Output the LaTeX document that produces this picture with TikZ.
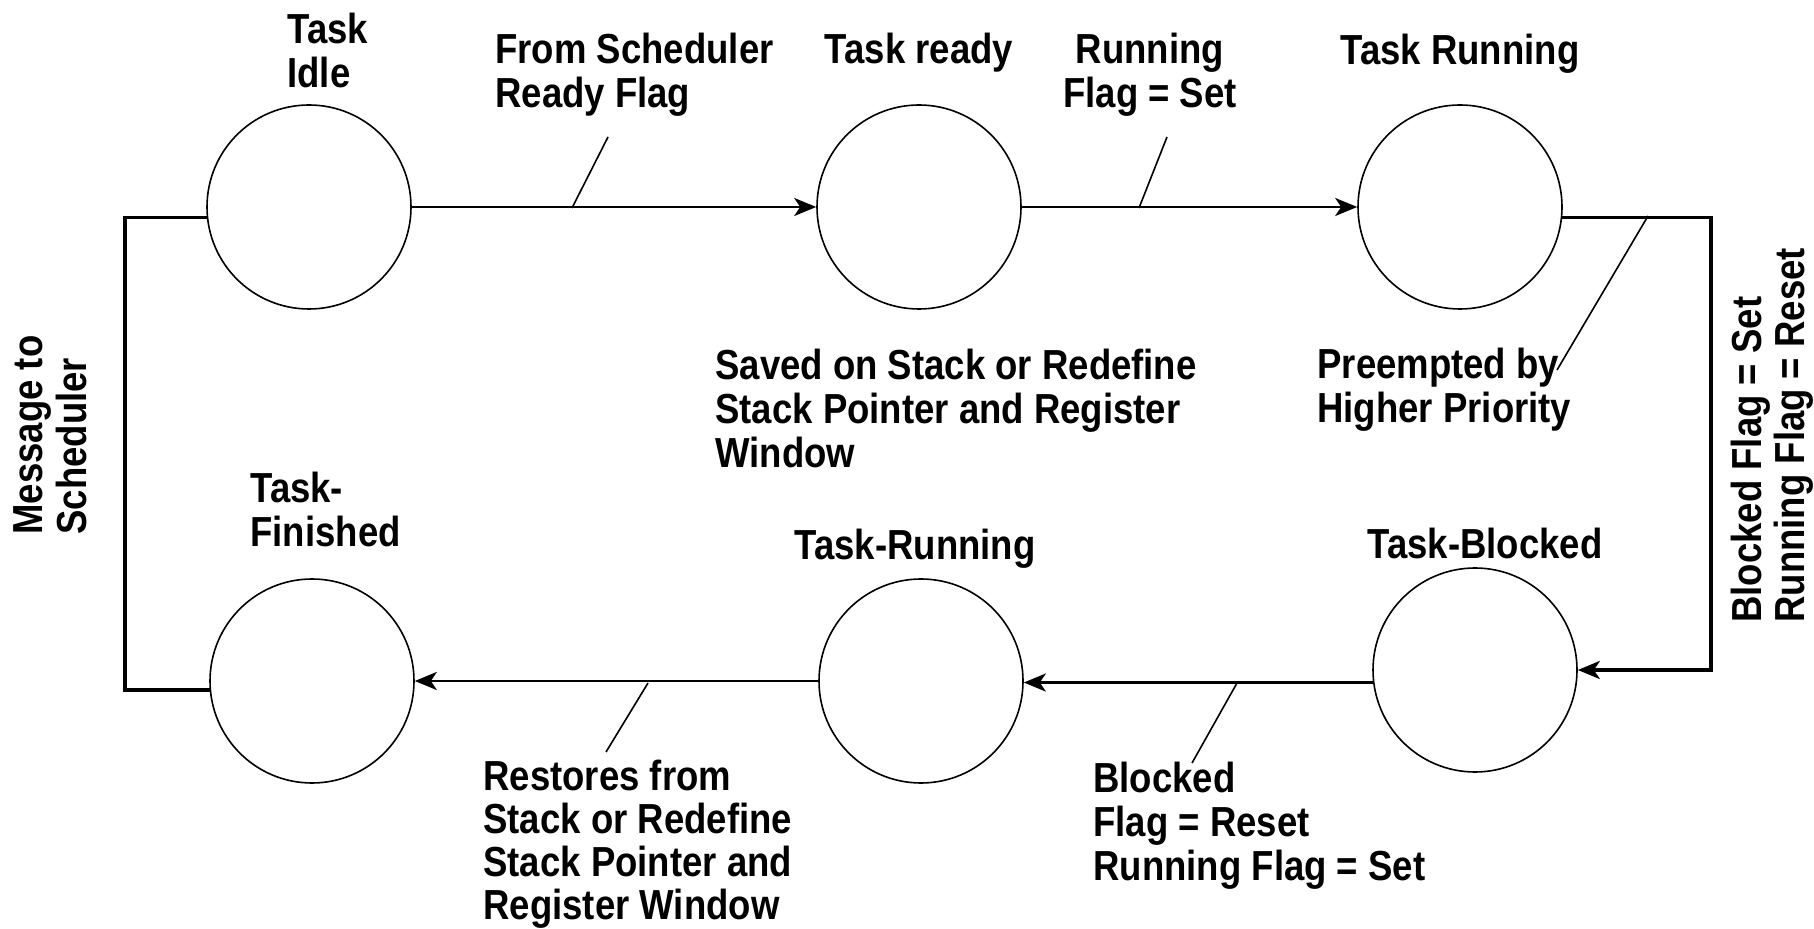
\documentclass[tikz,border=0pt]{standalone}
\usepackage{fontspec}
\setmainfont{Liberation Sans}[FakeStretch=0.87]
\usetikzlibrary{arrows.meta,calc}
\begin{document}
\begin{tikzpicture}[x=0.5pt,y=-0.5pt,
  state/.style={draw, circle, line width=0.8pt, minimum size=102pt, inner sep=0pt},
  link/.style={line width=1.4pt},
  loop/.style={line width=1.7pt},
  arr/.style={link, -{Stealth[length=11pt,width=9pt,inset=3pt]}},
  leader/.style={line width=0.8pt},
  lbl/.style={inner sep=0pt, font=\fontsize{21}{22}\selectfont\bfseries},
]
\useasboundingbox (0,0) rectangle (1814,929);
\fill[white] (0,0) rectangle (1814,929);

% task states
\node[state] (idle) at (309,207) {};
\node[state] (ready) at (919,207) {};
\node[state] (run) at (1460,207) {};
\node[state] (fin) at (312,681) {};
\node[state] (run2) at (921,681) {};
\node[state] (blk) at (1475,670) {};

% outer loop corners
\coordinate (rc) at (1711,0);
\coordinate (lc) at (125,0);

% transitions
\draw[arr] (idle) -- (ready);
\draw[arr] (ready) -- (run);
\draw[arr, loop] (run.-6) -- (run.-6 -| rc) -- (blk.east -| rc) -- (blk.east);
\draw[arr] (blk.187) -- (blk.187 -| run2.east);
\draw[arr] (run2) -- (fin);
\draw[loop] (fin.185) -- (fin.185 -| lc) -- (idle.186 -| lc) -- (idle.186);

% leader lines from transitions to their labels
\coordinate (s1) at (608,137); \coordinate (e1) at (572,208);
\coordinate (s2) at (1167,137); \coordinate (e2) at (1139,208);
\coordinate (s3) at (1648,216); \coordinate (e3) at (1557,370);
\coordinate (s4) at (648,683); \coordinate (e4) at (606,752);
\coordinate (s5) at (1237,683); \coordinate (e5) at (1192,763);
\draw[leader] (s1) -- (e1);
\draw[leader] (s2) -- (e2);
\draw[leader] (s3) -- (e3);
\draw[leader] (s4) -- (e4);
\draw[leader] (s5) -- (e5);

% state names
\node[lbl, anchor=north west, align=left] (tidle) at (287,13) {Task\\Idle};
\node[lbl, anchor=north] (tready) at (919,33) {Task ready};
\node[lbl, anchor=north] (trun) at (1460,34) {Task Running};
\node[lbl, anchor=north west, align=left] (tfin) at (250,472) {Task-\\Finished};
\node[lbl, anchor=north] (trun2) at (915,529) {Task-Running};
\node[lbl, anchor=north] (tblk) at (1485,528) {Task-Blocked};

% transition labels
\node[lbl, anchor=north west, align=left] (lready) at (495,33) {From Scheduler\\Ready Flag};
\node[lbl, anchor=north, align=center] (lrun) at (1150,33) {Running\\Flag = Set};
\node[lbl, anchor=north west, align=left] (lsave) at (715,349) {Saved on Stack or Redefine\\Stack Pointer and Register\\Window};
\node[lbl, anchor=north west, align=left] (lpre) at (1317,348) {Preempted by\\Higher Priority};
\node[lbl, anchor=north west, align=left, font=\fontsize{21}{21.5}\selectfont\bfseries] (lrest) at (483,760) {Restores from\\Stack or Redefine\\Stack Pointer and\\Register Window};
\node[lbl, anchor=north west, align=left] (lunb) at (1093,762) {Blocked\\Flag = Reset\\Running Flag = Set};
\node[lbl, rotate=90, anchor=north west, align=left] (lmsg) at (13,535) {Message to\\Scheduler};
\node[lbl, rotate=90, anchor=north west, align=left, font=\fontsize{21}{21.5}\selectfont\bfseries] (lblk) at (1731,623) {Blocked Flag = Set\\Running Flag = Reset};
\end{tikzpicture}
\end{document}
